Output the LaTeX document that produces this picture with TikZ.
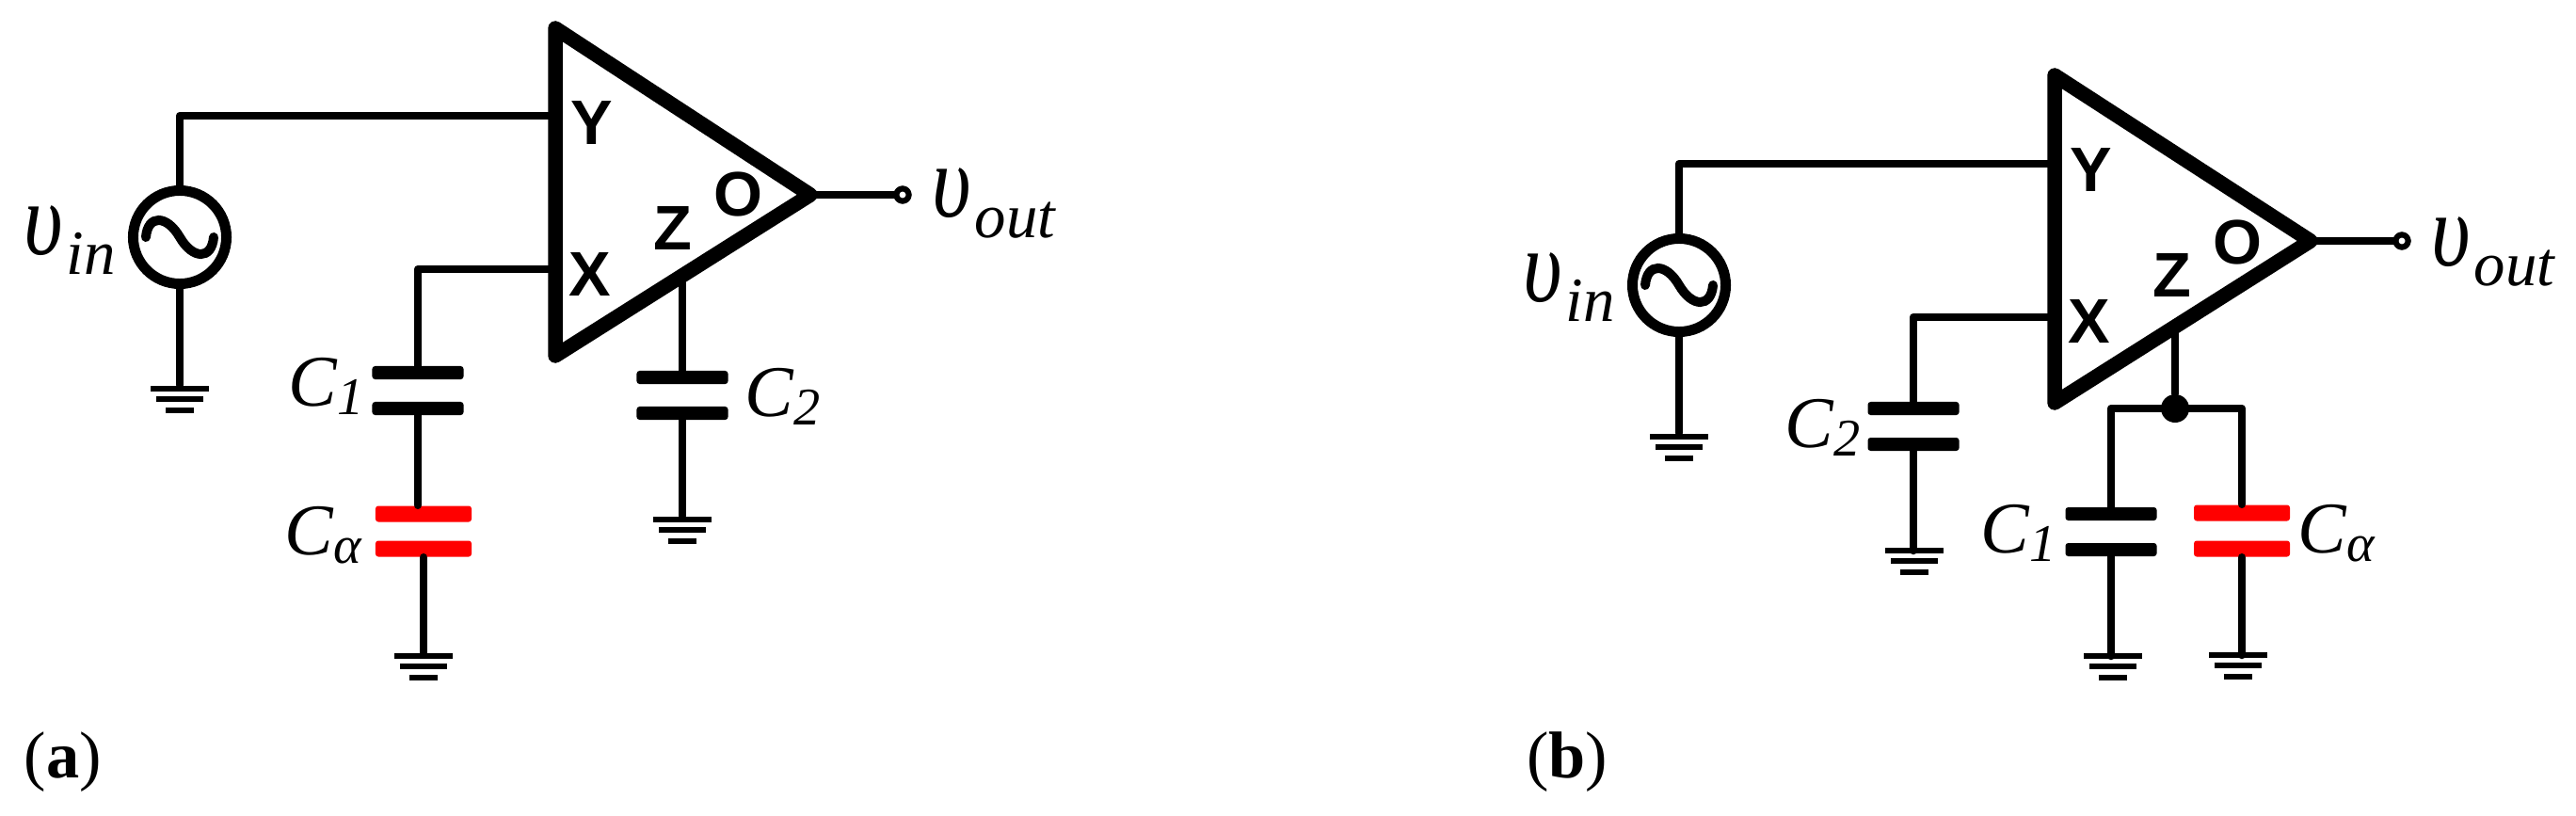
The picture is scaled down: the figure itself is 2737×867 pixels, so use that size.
\documentclass[tikz,border=0pt]{standalone}
\usepackage{fontspec}
\setmainfont{Liberation Serif}
\newfontfamily\pinfont{Liberation Sans}
\newcommand{\vlab}[2]{{\itshape\fontsize{28}{28}\selectfont\scalebox{0.92}[1.12]{υ}\kern#2\raisebox{-6.2pt}{\fontsize{19}{19}\selectfont #1}}}
\newcommand{\clab}[1]{{\itshape\fontsize{22}{22}\selectfont C\raisebox{-2.6pt}{\fontsize{16}{16}\selectfont #1}}}
\tikzset{
   bar/.style={rectangle, fill=black, inner sep=0pt, minimum height=0.065cm},
   gnd/.pic={
      \node[bar, minimum width=0.62cm, name=-top] at (0,0) {};
      \node[bar, minimum width=0.50cm, name=-mid] at (0,11) {};
      \node[bar, minimum width=0.30cm, name=-low] at (0,23) {};
   }
}

\begin{document}
\begin{tikzpicture}[x=0.01cm, y=-0.01cm,
      wire/.style={line width=0.085cm, line cap=round, line join=round},
      amp/.style={line width=0.155cm, line join=round},
      plate/.style={rectangle, rounded corners=0.03cm, fill=black, inner sep=0pt, minimum width=0.97cm, minimum height=0.14cm},
      redplate/.style={plate, fill=red, minimum width=1.02cm, minimum height=0.17cm},
      source/.style={circle, draw=black, fill=white, line width=0.11cm, inner sep=0pt, minimum size=0.99cm,
         path picture={\draw[shift={(path picture bounding box.center)}, line width=0.10cm, line cap=round] (-36,0)
            .. controls (-34,-24) and (-14,-24) .. (0,0) .. controls (14,24) and (34,24) .. (36,0);}},
      port/.style={circle, draw=black, fill=white, line width=0.06cm, inner sep=0pt, minimum size=0.13cm},
      pin/.style={inner sep=0pt, font=\pinfont\bfseries\fontsize{19}{19}\selectfont},
      caption/.style={inner sep=0pt, font=\fontsize{20}{20}\selectfont}]
      \useasboundingbox (0,0) rectangle (2737,867);

      \coordinate (topa) at (590,30);
      \coordinate (bota) at (590,378);
      \coordinate (tipa) at (861,207);
      \coordinate (ya) at (590,123);
      \coordinate (xa) at (590,286);
      \coordinate (za) at (725,292);
      \node[source, name=srca] at (191,252) {};
      \node[port, name=outa] at (959,207) {};
      \node[plate, name=c1ta] at (444,396) {};
      \node[plate, name=c1ba] at (444,434) {};
      \node[redplate, name=cata] at (450,546) {};
      \node[redplate, name=caba] at (450,583) {};
      \node[plate, name=c2ta] at (725,401) {};
      \node[plate, name=c2ba] at (725,439) {};
      \pic (gsa) at (191,413) {gnd};
      \pic (gca) at (450,697) {gnd};
      \pic (gza) at (725,552) {gnd};

      \draw[wire] (srca.north) |- (ya);
      \draw[wire] (xa) -| (c1ta.north);
      \path[wire]
         (srca.south) edge (gsa-top)
         (c1ba.south) edge (c1ba.south |- cata.north)
         (caba.south) edge (gca-top)
         (za) edge (c2ta.north)
         (c2ba.south) edge (gza-top)
         (tipa) edge (outa);
      \draw[amp] (topa) -- (tipa) -- (bota) -- cycle;
      \node[port] at (outa) {};

      \node[pin, name=pya] at (629,131) {Y};
      \node[pin, name=pxa] at (627,292) {X};
      \node[pin, name=pza] at (715,243) {Z};
      \node[pin, name=poa] at (784,206) {O};
      \node[inner sep=0pt, anchor=base west, name=lvina] at (25,270) {\vlab{in}{1pt}};
      \node[inner sep=0pt, anchor=base west, name=lvouta] at (990,231) {\vlab{out}{1pt}};
      \node[inner sep=0pt, anchor=base west, name=lc1a] at (306,431) {\clab{1}};
      \node[inner sep=0pt, anchor=base west, name=lcaa] at (302,589) {\clab{α}};
      \node[inner sep=0pt, anchor=base west, name=lc2a] at (791,442) {\clab{2}};
      \node[caption, name=capa] at (67,810) {(\textbf{a})};

      \coordinate (topb) at (2183,80);
      \coordinate (botb) at (2183,428);
      \coordinate (tipb) at (2455,256);
      \coordinate (yb) at (2183,174);
      \coordinate (xb) at (2183,337);
      \coordinate (zb) at (2311,349);
      \node[source, name=srcb] at (1784,303) {};
      \node[port, name=outb] at (2552,256) {};
      \node[plate, name=c2tb] at (2033,434) {};
      \node[plate, name=c2bb] at (2033,472) {};
      \node[plate, name=c1tb] at (2243,546) {};
      \node[plate, name=c1bb] at (2243,584) {};
      \node[redplate, name=catb] at (2382,545) {};
      \node[redplate, name=cabb] at (2382,583) {};
      \node[circle, fill=black, inner sep=0pt, minimum size=0.30cm, name=dotb] at (2311,434) {};
      \pic (gsb) at (1784,464) {gnd};
      \pic (gc2b) at (2034,585) {gnd};
      \pic (gc1b) at (2245,697) {gnd};
      \pic (gcab) at (2378,696) {gnd};

      \draw[wire] (srcb.north) |- (yb);
      \draw[wire] (xb) -| (c2tb.north);
      \draw[wire] (dotb.center) -| (c1tb.north);
      \draw[wire] (dotb.center) -| (catb.north);
      \path[wire]
         (srcb.south) edge (gsb-top)
         (c2bb.south) edge (c2bb.south |- gc2b-top)
         (c1bb.south) edge (c1bb.south |- gc1b-top)
         (cabb.south) edge (cabb.south |- gcab-top)
         (zb) edge (dotb)
         (tipb) edge (outb);
      \draw[amp] (topb) -- (tipb) -- (botb) -- cycle;
      \node[port] at (outb) {};

      \node[pin, name=pyb] at (2222,181) {Y};
      \node[pin, name=pxb] at (2220,342) {X};
      \node[pin, name=pzb] at (2308,293) {Z};
      \node[pin, name=pob] at (2377,257) {O};
      \node[inner sep=0pt, anchor=base west, name=lvinb] at (1618,320) {\vlab{in}{1pt}};
      \node[inner sep=0pt, anchor=base west, name=lvoutb] at (2583,282) {\vlab{out}{1pt}};
      \node[inner sep=0pt, anchor=base west, name=lc2b] at (1896,475) {\clab{2}};
      \node[inner sep=0pt, anchor=base west, name=lc1b] at (2104,587) {\clab{1}};
      \node[inner sep=0pt, anchor=base west, name=lcab] at (2441,587) {\clab{α}};
      \node[caption, name=capb] at (1665,810) {(\textbf{b})};
   \end{tikzpicture}
\end{document}
